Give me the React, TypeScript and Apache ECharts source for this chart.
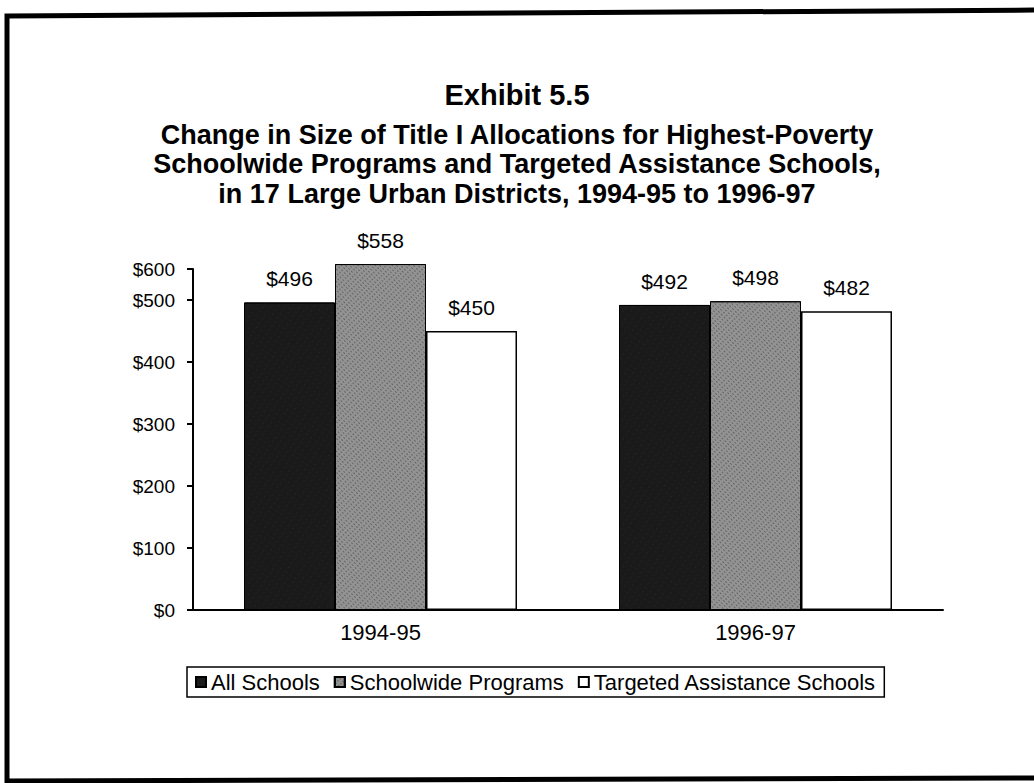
import React, { useEffect, useRef } from "react";
import * as echarts from "echarts";

const categories = ["1994-95", "1996-97"];
const seriesNames = ["All Schools", "Schoolwide Programs", "Targeted Assistance Schools"];
const allSchools = [496, 492];
const schoolwidePrograms = [558, 498];
const targetedAssistance = [450, 482];
const yTickLabels = ["$0", "$100", "$200", "$300", "$400", "$500", "$600"];

const titleText = "Exhibit 5.5";
const subtitleLines = [
  "Change in Size of Title I Allocations for Highest-Poverty",
  "Schoolwide Programs and Targeted Assistance Schools,",
  "in 17 Large Urban Districts, 1994-95 to 1996-97",
];

const FONT = "'Liberation Sans', Arial, Helvetica, sans-serif";

export default function App() {
  const ref = useRef<HTMLDivElement>(null);

  useEffect(() => {
    if (!ref.current) return;
    const chart = echarts.init(ref.current, null, { renderer: "svg" });

    const labelCfg = {
      show: true,
      position: "top",
      distance: 13,
      fontSize: 21,
      fontFamily: FONT,
      color: "#000",
      formatter: (p: any) => "$" + p.value,
    };

    const subtitleTitles = subtitleLines.map((line, i) => ({
      text: line,
      left: "center",
      top: 120 + i * 29.5,
      padding: 0,
      textStyle: { fontSize: 27, fontWeight: "bold", color: "#000", fontFamily: FONT, lineHeight: 29.5 },
    }));

    chart.setOption({
      animation: false,
      backgroundColor: "#fff",
      textStyle: { fontFamily: FONT, color: "#000" },
      title: [
        {
          text: titleText,
          left: "center",
          top: 80,
          padding: 0,
          textStyle: { fontSize: 29, fontWeight: "bold", color: "#000", fontFamily: FONT, lineHeight: 30 },
        },
        ...subtitleTitles,
      ],
      legend: {
        data: seriesNames,
        left: 187,
        top: 667,
        orient: "horizontal",
        padding: [4, 8],
        itemWidth: 10,
        itemHeight: 10,
        itemGap: 14,
        icon: "rect",
        borderColor: "#000",
        borderWidth: 1.5,
        textStyle: { fontSize: 22, color: "#000", fontFamily: FONT },
      },
      grid: { left: 193, right: 91, top: 269, bottom: 173, containLabel: false },
      xAxis: {
        type: "category",
        data: categories,
        axisLine: { show: true, lineStyle: { color: "#000", width: 2 } },
        axisTick: { show: false },
        axisLabel: { fontSize: 22, color: "#000", margin: 11, fontFamily: FONT },
        splitLine: { show: false },
      },
      yAxis: {
        type: "value",
        min: 0,
        max: 550,
        interval: 100,
        axisLine: { show: true, lineStyle: { color: "#000", width: 2 } },
        axisTick: { show: true, inside: false, length: 6, lineStyle: { color: "#000", width: 2 } },
        axisLabel: {
          fontSize: 19,
          color: "#000",
          margin: 18,
          fontFamily: FONT,
          formatter: (v: number, i: number) => yTickLabels[i] ?? "",
        },
        splitLine: { show: false },
      },
      series: [
        {
          name: seriesNames[0],
          type: "bar",
          data: allSchools,
          barWidth: 91,
          barGap: "0%",
          clip: false,
          itemStyle: {
            color: "#1a1a1a",
            borderColor: "#000",
            borderWidth: 1,
            decal: {
              symbol: "rect",
              symbolSize: 0.6,
              dashArrayX: [1, 5],
              dashArrayY: [1, 4],
              rotation: 0.6,
              color: "rgba(255,255,255,0.2)",
            },
          },
          label: labelCfg,
        },
        {
          name: seriesNames[1],
          type: "bar",
          data: schoolwidePrograms,
          barWidth: 91,
          barGap: "0%",
          clip: false,
          itemStyle: {
            color: "#939393",
            borderColor: "#000",
            borderWidth: 1,
            decal: {
              symbol: "rect",
              symbolSize: 1,
              dashArrayX: [2, 2],
              dashArrayY: [1, 2],
              rotation: 0.785,
              color: "rgba(30,30,30,0.4)",
            },
          },
          label: labelCfg,
        },
        {
          name: seriesNames[2],
          type: "bar",
          data: targetedAssistance,
          barWidth: 91,
          barGap: "0%",
          clip: false,
          itemStyle: { color: "#fff", borderColor: "#000", borderWidth: 1.5 },
          label: labelCfg,
        },
      ],
      graphic: [
        {
          type: "polygon",
          silent: true,
          z: 100,
          shape: {
            points: [
              [7, 16],
              [1044, 10],
              [1044, 778],
              [7, 781],
            ],
          },
          style: { fill: "none", stroke: "#000", lineWidth: 5 },
        },
      ],
    });

    return () => chart.dispose();
  }, []);

  return (
    <div
      ref={ref}
      style={{ position: "fixed", left: 0, top: 0, width: 1034, height: 783, background: "#fff" }}
    />
  );
}
